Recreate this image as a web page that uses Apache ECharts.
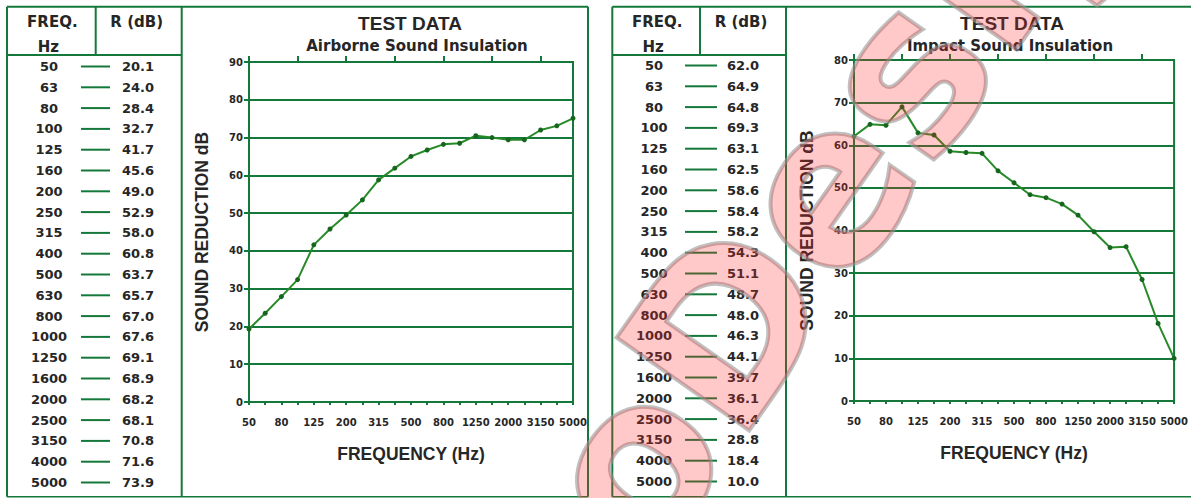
<!DOCTYPE html>
<html>
<head>
<meta charset="utf-8">
<script src="https://cdn.jsdelivr.net/npm/echarts@6/dist/echarts.min.js"></script>
<style>
html,body{margin:0;padding:0;background:#fff;}
#chart{width:1191px;height:498px;}
</style>
</head>
<body>
<div id="chart"></div>
<script>
// ---- data ----
var freqs = ['50','63','80','100','125','160','200','250','315','400','500','630','800','1000','1250','1600','2000','2500','3150','4000','5000'];
var airborneTable = [20.1,24.0,28.4,32.7,41.7,45.6,49.0,52.9,58.0,60.8,63.7,65.7,67.0,67.6,69.1,68.9,68.2,68.1,70.8,71.6,73.9];
var airbornePlot = [19.3,23.5,27.9,32.4,41.6,45.8,49.5,53.5,58.8,61.9,65.0,66.7,68.2,68.5,70.5,70.0,69.4,69.4,72.0,73.1,75.1];
var impactTable = [62.0,64.9,64.8,69.3,63.1,62.5,58.6,58.4,58.2,54.3,51.1,48.7,48.0,46.3,44.1,39.7,36.1,36.4,28.8,18.4,10.0];
var impactPlot = [62.1,64.9,64.7,69.0,62.9,62.4,58.6,58.3,58.1,54.0,51.2,48.4,47.7,46.2,43.6,39.7,36.0,36.2,28.5,18.2,10.0];
var titles = ['TEST DATA','TEST DATA'];
var subtitles = ['Airborne Sound Insulation','Impact Sound Insulation'];
var headFreq = 'FREQ.', headHz = 'Hz', headR = 'R (dB)';
var yName = 'SOUND REDUCTION dB', xName = 'FREQUENCY (Hz)';
var yMax = [90, 80];
var watermark = 'oDesig';

// ---- style ----
var G = '#14783a';
var TXT = '#262626';
var FONT = '"DejaVu Sans", Verdana, sans-serif';
var FONT2 = '"Liberation Sans", Arial, sans-serif';

var chart = echarts.init(document.getElementById('chart'), null, {renderer:'svg'});

function line(x1,y1,x2,y2,w){
  return {type:'line', shape:{x1:x1,y1:y1,x2:x2,y2:y2}, style:{stroke:G, lineWidth:w||2}, z:5};
}
function txt(x,y,t,size,align,font){
  return {type:'text', x:x, y:y, style:{text:t, font:'bold '+size+'px '+(font||FONT), fill:TXT, textAlign:align||'center', textVerticalAlign:'middle'}, z:6};
}

var graphics = [];
// panel frames
var panels = [
  {L:7, R:588, colDiv:95.7, tDiv:181.7, fx:49, d1:81, d2:110, vx:138, y0:66.5, vals:airborneTable},
  {L:612.3, R:1196, colDiv:700, tDiv:786, fx:654, d1:685, d2:717, vx:743, y0:65.5, vals:impactTable}
];
var TOP = 6.7, BOT = 496.8, HEAD = 55, STEP = 20.8;
panels.forEach(function(p){
  graphics.push(line(p.L, TOP, p.R, TOP));
  graphics.push(line(p.L, BOT, p.R, BOT, 1.5));
  graphics.push(line(p.L, TOP, p.L, BOT));
  graphics.push(line(p.R, TOP, p.R, BOT));
  graphics.push(line(p.tDiv, TOP, p.tDiv, BOT));
  graphics.push(line(p.colDiv, TOP, p.colDiv, HEAD));
  graphics.push(line(p.L, HEAD, p.tDiv, HEAD));
  graphics.push(txt((p.L+p.colDiv)/2+1, 21.5, headFreq, 15));
  graphics.push(txt((p.L+p.colDiv)/2-3, 46.5, headHz, 15));
  graphics.push(txt((p.colDiv+p.tDiv)/2-2, 21.5, headR, 15));
  freqs.forEach(function(f,i){
    var y = p.y0 + i*STEP;
    graphics.push(txt(p.fx, y, f, 13));
    graphics.push(line(p.d1, y, p.d2, y, 2));
    graphics.push(txt(p.vx, y, p.vals[i].toFixed(1), 13));
  });
});
// watermark
graphics.push({
  type:'text', x:587, y:528, rotation:55*Math.PI/180, z:50, silent:true,
  style:{text:watermark, font:'bold 222px '+FONT, fill:'rgba(255,40,40,0.25)', stroke:'rgba(150,150,150,0.6)', lineWidth:4, textAlign:'left', textVerticalAlign:'middle'}
});

var grids = [
  {left:249, top:62, width:324, height:340},
  {left:854, top:60, width:324, height:341}
];
var titleX = [410, 1012];

var option = {
  animation:false,
  backgroundColor:'#fff',
  title:[],
  grid:[],
  xAxis:[],
  yAxis:[],
  series:[],
  graphic:graphics
};
[0,1].forEach(function(k){
  option.title.push({text:titles[k], left:titleX[k], top:13.5, textAlign:'center', padding:0,
    textStyle:{fontSize:19, fontWeight:'bold', color:TXT, fontFamily:FONT2}});
  option.title.push({text:subtitles[k], left:titleX[k]+ (k===0?7:-2), top:38.5, textAlign:'center', padding:0,
    textStyle:{fontSize:15, fontWeight:'bold', color:TXT, fontFamily:FONT}});
  var g = grids[k];
  option.grid.push({left:g.left, top:g.top, width:g.width, height:g.height, show:true, borderColor:G, borderWidth:2, backgroundColor:'transparent'});
  option.xAxis.push({
    gridIndex:k, type:'category', data:freqs, boundaryGap:false,
    axisLine:{show:true, lineStyle:{color:G, width:2}},
    axisTick:{show:true, interval:0, length:3, lineStyle:{color:G, width:2}},
    axisLabel:{interval:1, margin:15, fontSize:10, fontWeight:'bold', color:TXT, fontFamily:FONT},
    splitLine:{show:false},
    name:xName, nameLocation:'middle', nameGap:43,
    nameTextStyle:{fontSize:17.5, fontWeight:'bold', color:TXT, fontFamily:FONT2}
  });
  option.xAxis.push({
    gridIndex:k, type:'category', data:freqs, boundaryGap:false,
    axisLine:{show:false},
    axisTick:{show:true, interval:2, length:6, lineStyle:{color:G, width:2}},
    axisLabel:{show:false}, splitLine:{show:false}
  });
  option.yAxis.push({
    gridIndex:k, type:'value', min:0, max:yMax[k], interval:10,
    axisLine:{show:true, lineStyle:{color:G, width:2}},
    axisTick:{show:true, length:5, lineStyle:{color:G, width:2}},
    axisLabel:{margin:6, fontSize:10, fontWeight:'bold', color:TXT, fontFamily:FONT},
    splitLine:{show:true, lineStyle:{color:G, width:2}},
    name:yName, nameLocation:'middle', nameGap:38, nameRotate:90,
    nameTextStyle:{fontSize:17.5, fontWeight:'bold', color:TXT, fontFamily:FONT2}
  });
  option.series.push({
    type:'line', xAxisIndex:k*2, yAxisIndex:k,
    data: k===0 ? airbornePlot : impactPlot,
    symbol:'circle', symbolSize:5,
    lineStyle:{color:'#278a27', width:2},
    itemStyle:{color:'#17661f'},
    z:10
  });
});
chart.setOption(option);
</script>
</body>
</html>
